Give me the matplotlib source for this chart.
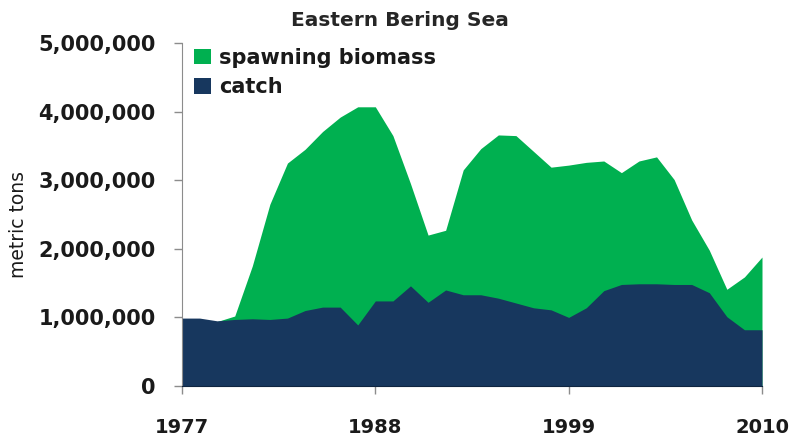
import matplotlib
matplotlib.use("Agg")
import matplotlib.pyplot as plt
from matplotlib.patches import Patch
from matplotlib.ticker import FuncFormatter

years = list(range(1977, 2011))

spawning_biomass = [
    0.90, 0.90, 0.94, 1.02, 1.75, 2.65, 3.25, 3.45, 3.71, 3.92,
    4.07, 4.07, 3.65, 2.95, 2.20, 2.27, 3.15, 3.46, 3.66, 3.65,
    3.42, 3.19, 3.22, 3.26, 3.28, 3.11, 3.28, 3.34, 3.01, 2.42,
    1.98, 1.41, 1.59, 1.88,
]
catch = [
    0.99, 0.99, 0.95, 0.97, 0.98, 0.97, 0.99, 1.10, 1.15, 1.15,
    0.89, 1.24, 1.24, 1.46, 1.22, 1.40, 1.33, 1.33, 1.28, 1.21,
    1.14, 1.11, 1.00, 1.14, 1.39, 1.48, 1.49, 1.49, 1.48, 1.48,
    1.36, 1.01, 0.82, 0.82,
]
biomass_t = [v * 1e6 for v in spawning_biomass]
catch_t = [v * 1e6 for v in catch]

x_ticks = [1977, 1988, 1999, 2010]
y_ticks = [0, 1e6, 2e6, 3e6, 4e6, 5e6]

GREEN = "#00B050"
NAVY = "#17375E"
TEXT = "#1a1a1a"

plt.rcParams["font.family"] = ["DejaVu Sans"]

fig = plt.figure(figsize=(7.9, 4.36), dpi=100)
ax = fig.add_axes([182 / 790, 50 / 436, 580 / 790, 343 / 436])

ax.fill_between(years, 0, biomass_t, color=GREEN, linewidth=0, zorder=2)
ax.fill_between(years, 0, catch_t, color=NAVY, linewidth=0, zorder=3)

ax.set_xlim(1977, 2010)
ax.set_ylim(0, 5e6)
ax.set_xticks(x_ticks)
ax.set_yticks(y_ticks)
ax.yaxis.set_major_formatter(FuncFormatter(lambda v, p: f"{int(v):,}"))

for lab in ax.get_yticklabels():
    lab.set_fontweight("bold")
    lab.set_fontsize(15)
    lab.set_color(TEXT)
for lab in ax.get_xticklabels():
    lab.set_fontweight("bold")
    lab.set_fontsize(14)
    lab.set_color(TEXT)

ax.tick_params(axis="y", direction="out", length=6, width=1, color="#8c8c8c", pad=13)
ax.tick_params(axis="x", direction="out", length=6, width=1, color="#8c8c8c", pad=17)

for side in ("top", "right"):
    ax.spines[side].set_visible(False)
ax.spines["left"].set_color("#8c8c8c")
ax.spines["bottom"].set_color("#0f2540")
ax.spines["left"].set_zorder(4)
ax.spines["bottom"].set_zorder(4)

ax.set_ylabel("metric tons", fontsize=13.5, color=TEXT)
ax.yaxis.set_label_coords(-0.266, 0.47)

fig.text(400 / 790, 1 - 21 / 436, "Eastern Bering Sea", ha="center", va="center",
         fontsize=14.5, fontweight="bold", color="#262626")

handles = [Patch(facecolor=GREEN, edgecolor="none", label="spawning biomass"),
           Patch(facecolor=NAVY, edgecolor="none", label="catch")]
leg = ax.legend(handles=handles, loc="upper left",
                bbox_to_anchor=(194 / 790, 1 - 48 / 436),
                bbox_transform=fig.transFigure, frameon=False,
                handlelength=0.8, handleheight=0.75, handletextpad=0.4,
                labelspacing=0.45, borderaxespad=0, borderpad=0,
                prop={"size": 15, "weight": "bold"})
for t in leg.get_texts():
    t.set_color(TEXT)

fig.savefig("out.png", dpi=100)
